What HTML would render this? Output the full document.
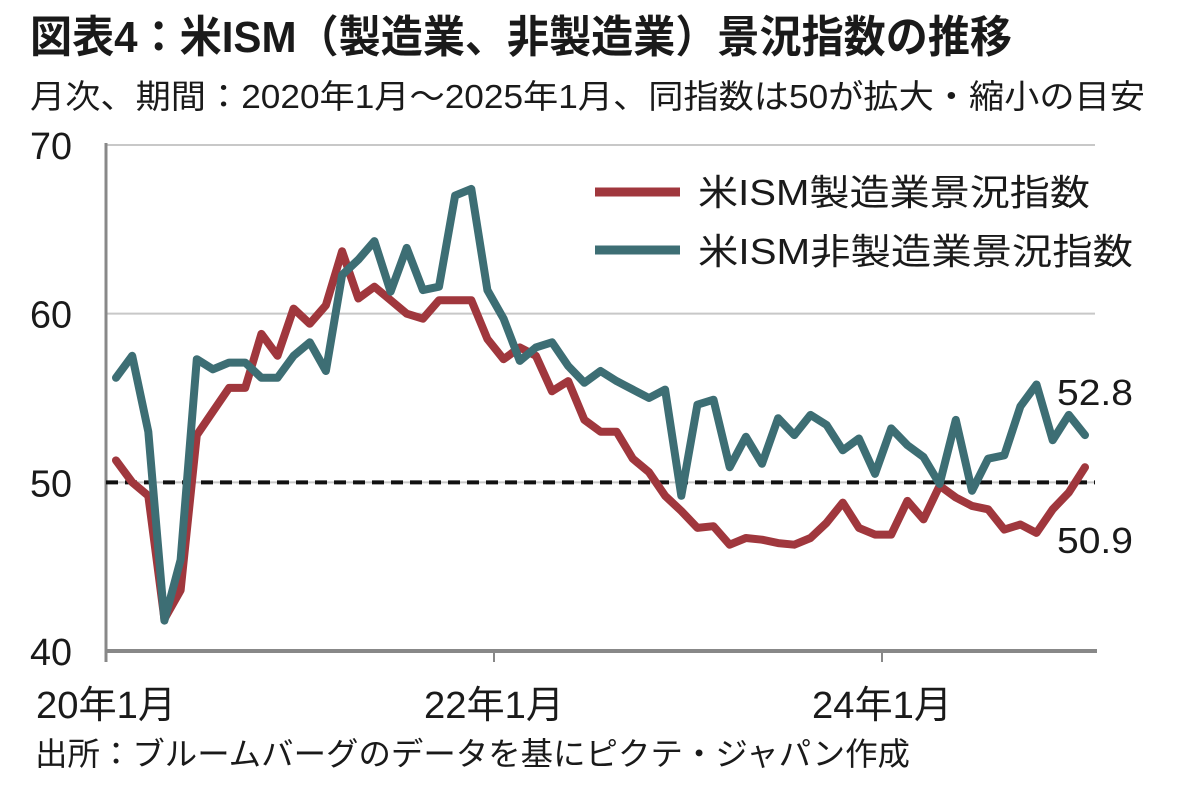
<!DOCTYPE html>
<html><head><meta charset="utf-8"><style>
body{margin:0;background:#fff}
svg{display:block}
text{font-family:"Liberation Sans","Noto Sans CJK JP",sans-serif;fill:#1a1a1a}
</style></head><body>
<svg id="chart" width="1200" height="795" viewBox="0 0 1200 795">
<text x="30" y="52" font-size="44" font-weight="bold" textLength="982" lengthAdjust="spacingAndGlyphs">図表4：米ISM（製造業、非製造業）景況指数の推移</text>
<text x="30" y="108" font-size="33" textLength="1115" lengthAdjust="spacingAndGlyphs">月次、期間：2020年1月～2025年1月、同指数は50が拡大・縮小の目安</text>
<g id="grid"></g>
<g id="axes"></g>
<g id="series"></g>
<g>
<line x1="595" y1="192" x2="680" y2="192" stroke="#a0373d" stroke-width="9"/>
<text x="698" y="205" font-size="36" textLength="392" lengthAdjust="spacingAndGlyphs">米ISM製造業景況指数</text>
<line x1="595" y1="250" x2="680" y2="250" stroke="#3d6e74" stroke-width="9"/>
<text x="698" y="264" font-size="36" textLength="435" lengthAdjust="spacingAndGlyphs">米ISM非製造業景況指数</text>
</g>
<text x="1057" y="405" font-size="36" textLength="76" lengthAdjust="spacingAndGlyphs">52.8</text>
<text x="1057" y="553" font-size="36" textLength="76" lengthAdjust="spacingAndGlyphs">50.9</text>
<text x="35" y="765" font-size="32" textLength="875" lengthAdjust="spacingAndGlyphs">出所：ブルームバーグのデータを基にピクテ・ジャパン作成</text>
</svg>
<script>
const yTicks=[40,50,60,70];
const xTickLabels=["20年1月","22年1月","24年1月"];
const xTickIdx=[0,24,48];
const mfg=[51.3,50.0,49.2,41.9,43.6,52.8,54.2,55.6,55.6,58.8,57.5,60.3,
59.4,60.5,63.7,60.9,61.6,60.8,60.0,59.7,60.8,60.8,60.8,58.5,
57.3,58.0,57.5,55.4,56.0,53.7,53.0,53.0,51.4,50.6,49.2,48.3,
47.3,47.4,46.3,46.7,46.6,46.4,46.3,46.7,47.6,48.8,47.3,46.9,
46.9,48.9,47.8,49.8,49.1,48.6,48.4,47.2,47.5,47.0,48.4,49.4,50.9];
const svc=[56.2,57.5,53.0,41.8,45.4,57.3,56.7,57.1,57.1,56.2,56.2,57.5,
58.3,56.6,62.3,63.2,64.3,61.3,63.9,61.4,61.6,67.0,67.4,61.4,
59.7,57.2,58.0,58.3,56.9,55.9,56.6,56.0,55.5,55.0,55.5,49.2,
54.6,54.9,50.9,52.7,51.1,53.8,52.8,54.0,53.4,51.9,52.6,50.5,
53.2,52.2,51.5,49.9,53.7,49.5,51.4,51.6,54.5,55.8,52.5,54.0,52.8];
const NS="http://www.w3.org/2000/svg";
const x0=116,x1=1085,n=61;
const xs=i=>x0+(x1-x0)*i/(n-1);
const ys=v=>651-(v-40)*(651-145)/30;
function mk(tag,attrs,parent){const e=document.createElementNS(NS,tag);for(const k in attrs)e.setAttribute(k,attrs[k]);parent.appendChild(e);return e;}
const grid=document.getElementById('grid'),axes=document.getElementById('axes'),ser=document.getElementById('series');
yTicks.forEach(v=>{
 if(v>40){const l=mk('line',{x1:105,x2:1095,y1:ys(v),y2:ys(v),stroke:'#c8c8c8','stroke-width':2},grid);
 
 }
 const t=mk('text',{x:30,y:ys(v)+14,'font-size':38,textLength:42,lengthAdjust:'spacingAndGlyphs'},axes);t.textContent=v;
 
 
});
const ya=mk('line',{x1:106,x2:106,y1:143,y2:662,stroke:'#888','stroke-width':3},axes);


const xa=mk('line',{x1:105,x2:1097,y1:651,y2:651,stroke:'#888','stroke-width':4},axes);


const tickX=[106,494,882];
xTickLabels.forEach((s,i)=>{
 if(i>0){const tk=mk('line',{x1:tickX[i],x2:tickX[i],y1:651,y2:662,stroke:'#888','stroke-width':2},axes);
 
 }
 const t=mk('text',{x:tickX[i]-70,y:718,'font-size':38,textLength:140,lengthAdjust:'spacingAndGlyphs'},axes);t.textContent=s;
 
 
});
const ref=mk('line',{x1:106,x2:1095,y1:ys(50),y2:ys(50),stroke:'#111','stroke-width':4,'stroke-dasharray':'12 7'},ser);


function path(arr,color,name){
 const d=arr.map((v,i)=>(i?'L':'M')+xs(i).toFixed(1)+','+ys(v).toFixed(1)).join('');
 const p=mk('path',{d:d,fill:'none',stroke:color,'stroke-width':8,'stroke-linejoin':'round','stroke-linecap':'round'},ser);
 
 
}
path(mfg,'#a0373d','manufacturing-line');
path(svc,'#3d6e74','services-line');
</script>
</body></html>
